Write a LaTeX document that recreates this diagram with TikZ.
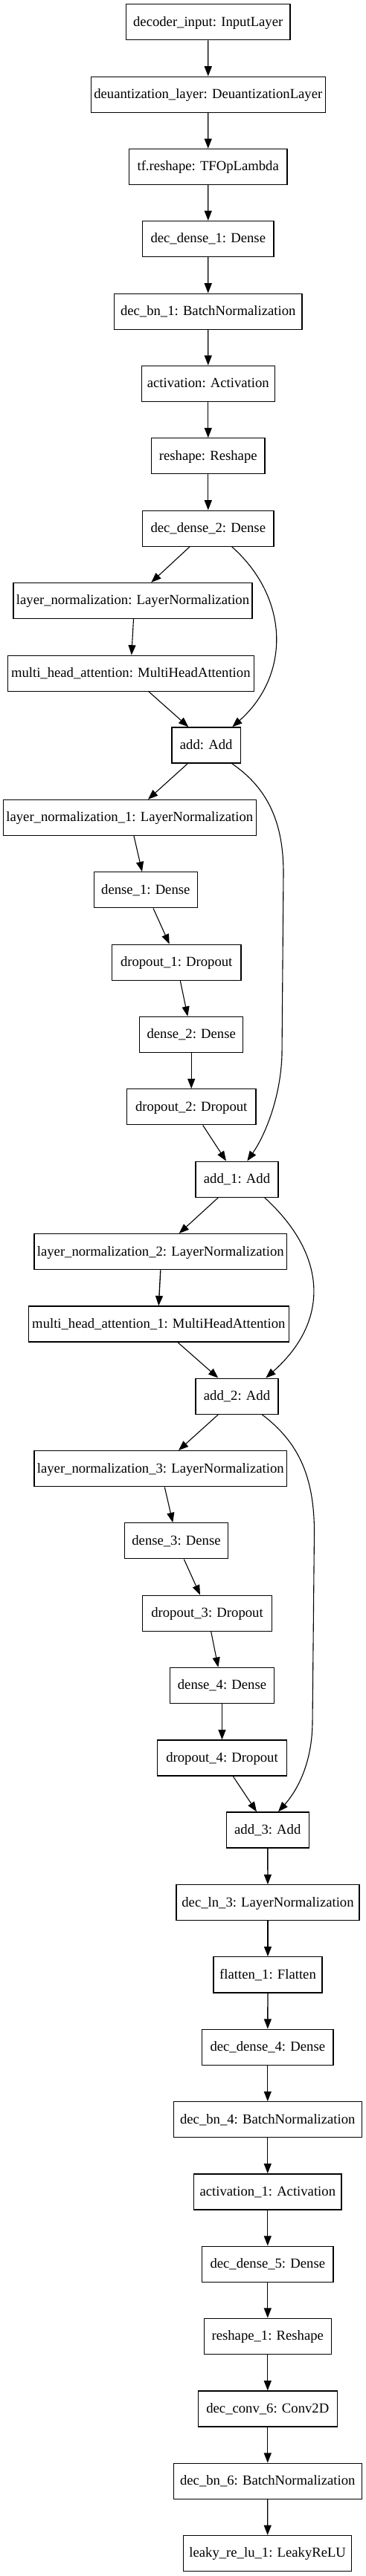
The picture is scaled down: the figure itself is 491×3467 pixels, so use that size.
\documentclass[tikz,border=0pt]{standalone}
\usepackage{fontspec}
\setmainfont{Liberation Serif}
\usetikzlibrary{arrows.meta}
\begin{document}
\begin{tikzpicture}[x=1pt,y=-1pt,
  layer/.style={draw=black, line width=1.33pt, rectangle, minimum height=48pt,
    inner xsep=4pt, inner ysep=2pt, text height=14.6pt, text depth=4pt,
    font=\fontsize{18.67pt}{22pt}\selectfont},
  edge/.style={draw=black, line width=1.33pt, -{Triangle[length=13.3pt,width=10pt]}},
  skip/.style={draw=black, line width=1.1pt, -{Triangle[length=13.3pt,width=10pt]}}]
\useasboundingbox[fill=white] (0,0) rectangle (491,3467);

\node[layer, minimum width=220.7pt] (inp)  at (279.7,29.7)   {decoder\_input: InputLayer};
\node[layer, minimum width=315pt]   (deq)  at (279.8,127.2)  {deuantization\_layer: DeuantizationLayer};
\node[layer, minimum width=212.7pt] (tfr)  at (279.7,224.5)  {tf.reshape: TFOpLambda};
\node[layer, minimum width=176.3pt] (dd1)  at (279.8,321.5)  {dec\_dense\_1: Dense};
\node[layer, minimum width=252.7pt] (bn1)  at (279.7,419.2)  {dec\_bn\_1: BatchNormalization};
\node[layer, minimum width=179pt]   (act)  at (279.8,516.3)  {activation: Activation};
\node[layer, minimum width=152.3pt] (rsh)  at (279.8,613.8)  {reshape: Reshape};
\node[layer, minimum width=176.3pt] (dd2)  at (279.8,711.2)  {dec\_dense\_2: Dense};
\node[layer, minimum width=320.4pt] (ln0)  at (178.5,808.5)  {layer\_normalization: LayerNormalization};
\node[layer, minimum width=331pt]   (mha)  at (175.8,906.2)  {multi\_head\_attention: MultiHeadAttention};
\node[layer, minimum width=92.3pt]  (add0) at (277.2,1003)   {add: Add};
\node[layer, minimum width=340pt]   (ln1)  at (174.3,1100.5) {layer\_normalization\_1: LayerNormalization};
\node[layer, minimum width=139pt]   (de1)  at (195.8,1197.8) {dense\_1: Dense};
\node[layer, minimum width=173.7pt] (do1)  at (237.2,1295.2) {dropout\_1: Dropout};
\node[layer, minimum width=139pt]   (de2)  at (257.2,1392.5) {dense\_2: Dense};
\node[layer, minimum width=173.7pt] (do2)  at (257.2,1489.8) {dropout\_2: Dropout};
\node[layer, minimum width=111pt]   (add1) at (318.5,1587.2) {add\_1: Add};
\node[layer, minimum width=339pt]   (ln2)  at (215.8,1684.7) {layer\_normalization\_2: LayerNormalization};
\node[layer, minimum width=350pt]   (mha1) at (213.3,1782)   {multi\_head\_attention\_1: MultiHeadAttention};
\node[layer, minimum width=111pt]   (add2) at (318.5,1879.2) {add\_2: Add};
\node[layer, minimum width=339pt]   (ln3)  at (215.8,1976.7) {layer\_normalization\_3: LayerNormalization};
\node[layer, minimum width=139.4pt] (de3)  at (237,2073.8)   {dense\_3: Dense};
\node[layer, minimum width=174.4pt] (do3)  at (278.5,2171.2) {dropout\_3: Dropout};
\node[layer, minimum width=139.6pt] (de4)  at (298.5,2268.5) {dense\_4: Dense};
\node[layer, minimum width=174.4pt] (do4)  at (298.5,2366)   {dropout\_4: Dropout};
\node[layer, minimum width=111pt]   (add3) at (359.8,2463)   {add\_3: Add};
\node[layer, minimum width=246pt]   (dln3) at (360,2560.8)   {dec\_ln\_3: LayerNormalization};
\node[layer, minimum width=146pt]   (fl1)  at (360,2657.8)   {flatten\_1: Flatten};
\node[layer, minimum width=176.3pt] (dd4)  at (359.8,2755.2) {dec\_dense\_4: Dense};
\node[layer, minimum width=253pt]   (bn4)  at (359.8,2852.7) {dec\_bn\_4: BatchNormalization};
\node[layer, minimum width=198.3pt] (act1) at (359.8,2949.8) {activation\_1: Activation};
\node[layer, minimum width=176.3pt] (dd5)  at (359.8,3047.2) {dec\_dense\_5: Dense};
\node[layer, minimum width=171pt]   (rsh1) at (359.8,3144.3) {reshape\_1: Reshape};
\node[layer, minimum width=187pt]   (cv6)  at (359.8,3242)   {dec\_conv\_6: Conv2D};
\node[layer, minimum width=253pt]   (bn6)  at (359.8,3339.3) {dec\_bn\_6: BatchNormalization};
\node[layer, minimum width=226pt]   (lk)   at (359.7,3436.5) {leaky\_re\_lu\_1: LeakyReLU};

% straight chain edges
\draw[edge] (inp) -- (deq);
\draw[edge] (deq) -- (tfr);
\draw[edge] (tfr) -- (dd1);
\draw[edge] (dd1) -- (bn1);
\draw[edge] (bn1) -- (act);
\draw[edge] (act) -- (rsh);
\draw[edge] (rsh) -- (dd2);
\draw[edge] (de2) -- (do2);
\draw[edge] (ln2.south) -- (mha1.north);
\draw[edge] (de4) -- (do4);
\draw[edge] (add3) -- (dln3);
\draw[edge] (dln3) -- (fl1);
\draw[edge] (fl1) -- (dd4);
\draw[edge] (dd4) -- (bn4);
\draw[edge] (bn4) -- (act1);
\draw[edge] (act1) -- (dd5);
\draw[edge] (dd5) -- (rsh1);
\draw[edge] (rsh1) -- (cv6);
\draw[edge] (cv6) -- (bn6);
\draw[edge] (bn6) -- (lk);

% diagonal edges
\draw[skip] ([xshift=-24.8pt]dd2.south) -- ([xshift=24.8pt]ln0.north);
\draw[skip] ([xshift=1pt]ln0.south) -- ([xshift=1pt]mha.north);
\draw[skip] ([xshift=24.2pt]mha.south) -- ([xshift=-23.9pt]add0.north);
\draw[skip] ([xshift=-24.9pt]add0.south) -- ([xshift=24.7pt]ln1.north);
\draw[skip] ([xshift=5.7pt]ln1.south) -- ([xshift=-4.8pt]de1.north);
\draw[skip] ([xshift=10.2pt]de1.south) -- ([xshift=-9.5pt]do1.north);
\draw[skip] ([xshift=5.1pt]do1.south) -- ([xshift=-4.9pt]de2.north);
\draw[skip] ([xshift=15.5pt]do2.south) -- ([xshift=-14.5pt]add1.north);
\draw[skip] ([xshift=-25.2pt]add1.south) -- ([xshift=24.9pt]ln2.north);
\draw[skip] ([xshift=25.7pt]mha1.south) -- ([xshift=-25.2pt]add2.north);
\draw[skip] ([xshift=-25.2pt]add2.south) -- ([xshift=24.2pt]ln3.north);
\draw[skip] ([xshift=5.5pt]ln3.south) -- ([xshift=-4.7pt]de3.north);
\draw[skip] ([xshift=10.3pt]de3.south) -- ([xshift=-9.5pt]do3.north);
\draw[skip] ([xshift=5.2pt]do3.south) -- ([xshift=-5.2pt]de4.north);
\draw[skip] ([xshift=14.8pt]do4.south) -- ([xshift=-14.8pt]add3.north);

% residual curves
\draw[skip] ([xshift=31.9pt]dd2.south) .. controls +(78.3,69.7) and +(77.7,-69) .. ([xshift=35.1pt]add0.north);
\coordinate (r2a) at (381,1175);
\coordinate (r2b) at (379,1420);
\draw[skip] ([xshift=34.5pt]add0.south) .. controls (362,1062) and (381,1110) .. (r2a) -- (r2b)
  .. controls (377,1480) and (355,1530) .. ([xshift=13.8pt]add1.north);
\draw[skip] ([xshift=37.2pt]add1.south) .. controls +(86.3,79) and +(84.7,-75) .. ([xshift=38.8pt]add2.north);
\coordinate (r4a) at (422.5,2060);
\coordinate (r4b) at (420,2320);
\draw[skip] ([xshift=33.8pt]add2.south) .. controls (400,1940) and (422,1985) .. (r4a) -- (r4b)
  .. controls (419,2380) and (395,2415) .. ([xshift=14.2pt]add3.north);
\end{tikzpicture}
\end{document}
